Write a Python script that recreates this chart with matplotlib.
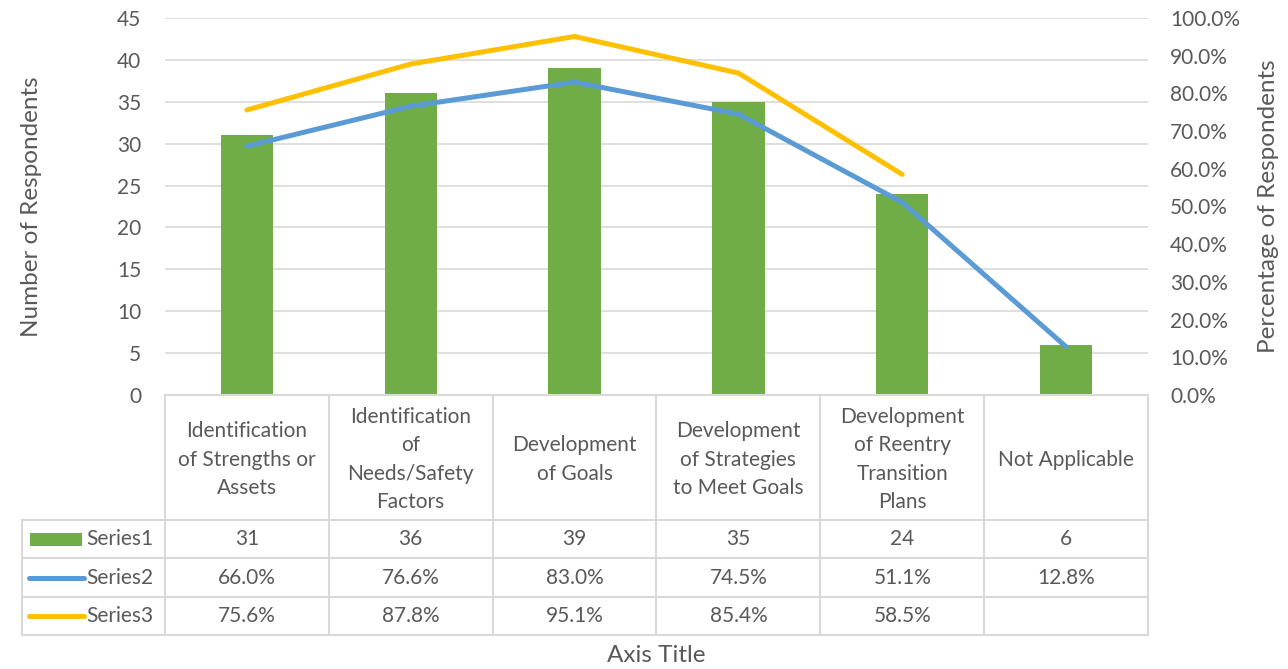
import numpy as np
import matplotlib
matplotlib.use("Agg")
import matplotlib.pyplot as plt

plt.rcParams["font.family"] = ["Lato", "DejaVu Sans"]

categories = ["Identification\nof Strengths or\nAssets",
              "Identification\nof\nNeeds/Safety\nFactors",
              "Development\nof Goals",
              "Development\nof Strategies\nto Meet Goals",
              "Development\nof Reentry\nTransition\nPlans",
              "Not Applicable"]
series1 = [31, 36, 39, 35, 24, 6]
series2 = [0.660, 0.766, 0.830, 0.745, 0.511, 0.128]
series3 = [0.756, 0.878, 0.951, 0.854, 0.585, np.nan]

GREEN = "#70AD47"
BLUE = "#5B9BD5"
GOLD = "#FFC000"
TXT = "#595959"
GRID = "#D9D9D9"
FS = 15
LFS = 17.5
LW = 3.6

W, H = 1288, 669
fig = plt.figure(figsize=(W / 100, H / 100), dpi=100)

# plot area in pixels
L, R, T, B = 165, 1148, 18, 395
ax = fig.add_axes([L / W, 1 - B / H, (R - L) / W, (B - T) / H])
x = np.arange(len(categories))
ax.bar(x, series1, width=0.32, color=GREEN, zorder=2)
ax.set_xlim(-0.5, len(categories) - 0.5)
ax.set_ylim(0, 45)
ax.set_yticks(range(0, 46, 5))
ax.yaxis.grid(True, color=GRID, lw=1.2)
ax.set_axisbelow(True)
ax.set_xticks([])
for s in ax.spines.values():
    s.set_visible(False)
ax.tick_params(axis="y", length=0, labelsize=FS, labelcolor=TXT, pad=17)
ax.set_ylabel("Number of Respondents", fontsize=LFS, color=TXT, labelpad=54)

ax2 = ax.twinx()
ax2.plot(x, series2, color=BLUE, lw=LW, solid_capstyle="round", zorder=3)
ax2.plot(x, series3, color=GOLD, lw=LW, solid_capstyle="round", zorder=3)
ax2.set_ylim(0, 1.0)
ax2.set_yticks(np.arange(0, 1.01, 0.1))
ax2.set_yticklabels(["%.1f%%" % (v * 100) for v in np.arange(0, 1.01, 0.1)])
for s in ax2.spines.values():
    s.set_visible(False)
ax2.tick_params(axis="y", length=0, labelsize=FS, labelcolor=TXT, pad=16)
ax2.set_ylabel("Percentage of Respondents", fontsize=LFS, color=TXT, labelpad=13)

# data table below the plot
TL, TB = 22, 635
tab = fig.add_axes([TL / W, 1 - TB / H, (R - TL) / W, (TB - B) / H])
unit = (R - L) / len(categories)
x0 = -0.5 - (L - TL) / unit
tab.set_xlim(x0, len(categories) - 0.5)
tab.set_ylim(TB, B)
tab.axis("off")

rows = [B, 520, 558, 597, TB]
edge = dict(color=GRID, lw=1.5, clip_on=False)
# header row
tab.plot([-0.5, len(categories) - 0.5], [B, B], **edge)
for yy in rows[1:]:
    tab.plot([x0, len(categories) - 0.5], [yy, yy], **edge)
for i in range(len(categories) + 1):
    tab.plot([i - 0.5, i - 0.5], [B, TB], **edge)
tab.plot([x0, x0], [rows[1], TB], **edge)

for i, c in enumerate(categories):
    tab.text(i, (B + rows[1]) / 2 + 2, c, ha="center", va="center",
             fontsize=FS, color=TXT, linespacing=1.52)

labels = ["Series1", "Series2", "Series3"]
vals = [[str(v) for v in series1],
        ["%.1f%%" % (v * 100) for v in series2],
        ["" if np.isnan(v) else "%.1f%%" % (v * 100) for v in series3]]
px = 1 / unit
for r in range(3):
    yc = (rows[r + 1] + rows[r + 2]) / 2
    for i, v in enumerate(vals[r]):
        tab.text(i, yc, v, ha="center", va="center", fontsize=FS, color=TXT)
    tab.text(x0 + 64 * px, yc, labels[r], ha="left", va="center",
             fontsize=FS, color=TXT)
    if r == 0:
        tab.fill_between([x0 + 8 * px, x0 + 60 * px], yc - 6.5, yc + 6.5,
                         color=GREEN, lw=0)
    else:
        tab.plot([x0 + 7 * px, x0 + 62 * px], [yc, yc], color=[BLUE, GOLD][r - 1],
                 lw=LW, solid_capstyle="round")

fig.text((L + R) / 2 / W, 1 - 656 / H, "Axis Title", ha="center", va="center",
         fontsize=LFS, color=TXT)

fig.savefig("out.png", dpi=100)
